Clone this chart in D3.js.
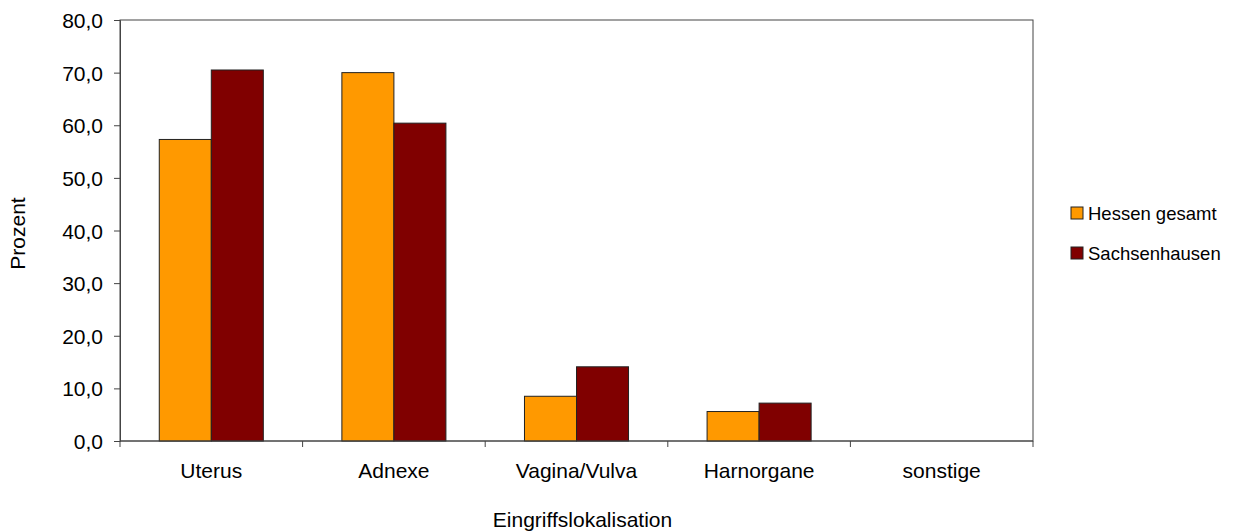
<!DOCTYPE html>
<html>
<head>
<meta charset="utf-8">
<style>
body { margin: 0; background: #fff; }
text { font-family: "Liberation Sans", Arial, sans-serif; fill: #000; }
</style>
</head>
<body>
<svg id="chart" width="1237" height="532"></svg>
<script src="https://d3js.org/d3.v7.min.js"></script>
<script>
var categories = ["Uterus", "Adnexe", "Vagina/Vulva", "Harnorgane", "sonstige"];
var seriesNames = ["Hessen gesamt", "Sachsenhausen"];
var hessen = [57.3, 70.0, 8.5, 5.6, 0];
var sachsenhausen = [70.5, 60.4, 14.1, 7.2, 0];
var yTicks = [0, 10, 20, 30, 40, 50, 60, 70, 80];
var colors = ["#ff9900", "#800000"];

var margin = {top: 20, right: 204, bottom: 91, left: 120},
    width = 1237 - margin.left - margin.right,
    height = 532 - margin.top - margin.bottom;

var svg = d3.select("#chart")
  .append("g")
  .attr("transform", "translate(" + margin.left + "," + margin.top + ")");

var x = d3.scaleBand().domain(categories).range([0, width]).paddingInner(0).paddingOuter(0);
var x1 = d3.scaleBand().domain(seriesNames).range([0, x.bandwidth()]).paddingOuter(0.755).paddingInner(0);
var y = d3.scaleLinear().domain([0, 80]).range([height, 0]);

var fmt = function(d) { return d3.format(".1f")(d).replace(".", ","); };

// frame
svg.append("rect")
  .attr("width", width).attr("height", height)
  .attr("fill", "none").attr("stroke", "#444").attr("stroke-width", 1);

var data = categories.map(function(c, i) {
  return {cat: c, vals: [hessen[i], sachsenhausen[i]]};
});

var groups = svg.selectAll(".grp")
  .data(data).enter().append("g")
  .attr("transform", function(d) { return "translate(" + x(d.cat) + ",0)"; });

groups.selectAll("rect")
  .data(function(d) { return d.vals.filter(function(v) { return v > 0; }).map(function(v, j) { return {s: seriesNames[j], v: v, j: j}; }); })
  .enter().append("rect")
  .attr("x", function(d) { return x1(d.s); })
  .attr("y", function(d) { return y(d.v); })
  .attr("width", x1.bandwidth())
  .attr("height", function(d) { return height - y(d.v); })
  .attr("fill", function(d) { return colors[d.j]; })
  .attr("stroke", "#222")
  .attr("stroke-width", 1);

// y axis
var yAxis = svg.append("g")
  .call(d3.axisLeft(y).tickValues(yTicks).tickFormat(fmt).tickSize(6).tickPadding(11));
yAxis.select(".domain").attr("stroke", "#444");
yAxis.selectAll("line").attr("stroke", "#444");
yAxis.selectAll("text").style("font-size", "21px").attr("fill", "#000").attr("dy", "0.36em");

// x axis with ticks at band edges
var xAxis = svg.append("g").attr("transform", "translate(0," + height + ")");
xAxis.append("line").attr("x1", 0).attr("x2", width).attr("stroke", "#444");
var edges = categories.map(function(c) { return x(c); }).concat([width]);
xAxis.selectAll(".tk").data(edges).enter().append("line")
  .attr("x1", function(d) { return d; }).attr("x2", function(d) { return d; })
  .attr("y1", 0).attr("y2", 6).attr("stroke", "#444");
xAxis.selectAll(".lbl").data(categories).enter().append("text")
  .attr("x", function(c) { return x(c) + x.bandwidth() / 2; })
  .attr("y", 37)
  .attr("text-anchor", "middle")
  .style("font-size", "21px")
  .text(function(c) { return c; });

// axis titles
svg.append("text")
  .attr("transform", "translate(" + (-95) + "," + (height / 2 + 3) + ") rotate(-90)")
  .attr("text-anchor", "middle")
  .style("font-size", "21px")
  .text("Prozent");

svg.append("text")
  .attr("x", width / 2 + 6)
  .attr("y", height + 86)
  .attr("text-anchor", "middle")
  .style("font-size", "21px")
  .text("Eingriffslokalisation");

// legend
var legend = d3.select("#chart").append("g").attr("transform", "translate(1071,207)");
var li = legend.selectAll("g").data(seriesNames).enter().append("g")
  .attr("transform", function(d, i) { return "translate(0," + (i * 40) + ")"; });
li.append("rect").attr("width", 12).attr("height", 12)
  .attr("fill", function(d, i) { return colors[i]; })
  .attr("stroke", "#222").attr("stroke-width", 1);
li.append("text").attr("x", 17).attr("y", 12.5)
  .style("font-size", "18.5px")
  .text(function(d) { return d; });
</script>
</body>
</html>
